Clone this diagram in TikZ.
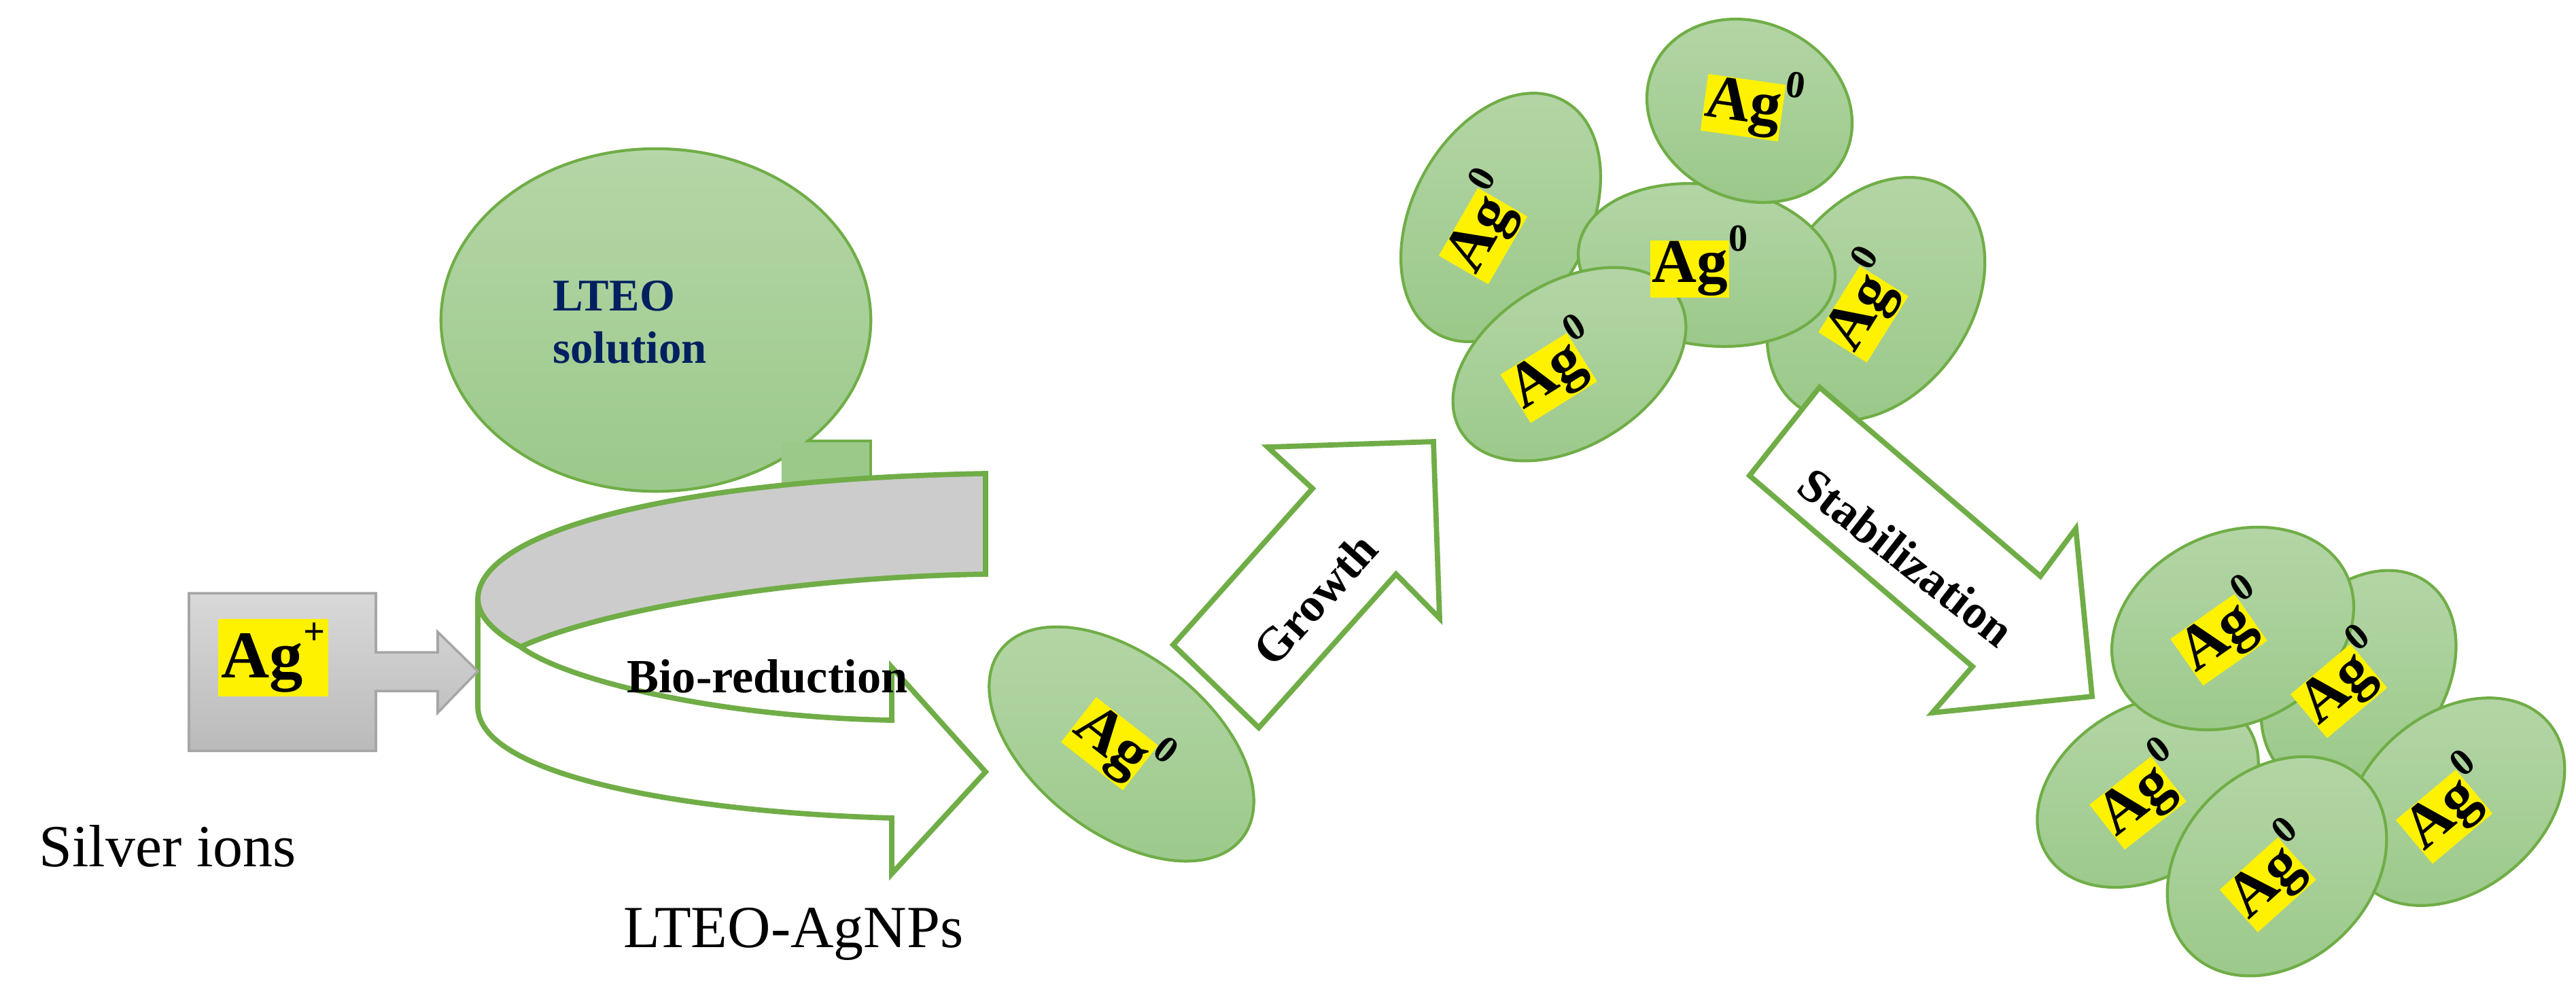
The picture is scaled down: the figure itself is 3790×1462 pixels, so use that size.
\documentclass[tikz,border=0pt]{standalone}
\usepackage{fontspec}
\setmainfont{Liberation Serif}
\usetikzlibrary{shapes.geometric}
\definecolor{gA}{HTML}{B5D6A7}
\definecolor{gB}{HTML}{9BC98A}
\definecolor{gE}{HTML}{70AD47}
\definecolor{navy}{HTML}{002060}
\newcommand{\agzero}{{\setlength{\fboxsep}{0.5pt}\colorbox{yellow}{Ag}\raisebox{0.5em}{\fontsize{16}{16}\selectfont 0}}}
\begin{document}
\begin{tikzpicture}[x=0.01cm,y=-0.01cm,
  part/.style={ellipse,draw=gE,line width=1.2pt,top color=gA,bottom color=gB,inner sep=0pt},
  ag/.style={font=\fontsize{26}{26}\selectfont\bfseries},
  blk/.style={draw=gE,line width=2.2pt,fill=white,line join=miter},
  lbl/.style={font=\fontsize{20}{20}\selectfont\bfseries}]
\useasboundingbox (0,0) rectangle (3790,1462);
% LTEO cloud
\node[part,minimum width=6.32cm,minimum height=5.04cm] (cloud) at (965,471) {};
\path[fill=gB] (1150,651) rectangle (1279,720);
\draw[gE,line width=1.2pt] (1186,649) -- (1281,649) -- (1281,705);
\node[font=\fontsize{19}{22}\selectfont\bfseries,text=navy,align=left,anchor=west] (lteo) at (801,474) {LTEO\\solution};
% curved arrow: back band
\path[draw=gE,line width=2.2pt,fill=black!20]
  (1450,697) -- (1450,845) .. controls (1150,850) and (880,900) .. (766,952)
  .. controls (725,930) and (703,905) .. (703,882)
  .. controls (703,780) and (1000,705) .. (1450,697) -- cycle;
% front band with head
\path[blk] (703,882) -- (703,1041) .. controls (705,1140) and (1000,1195) .. (1312,1204)
  -- (1312,1286) -- (1450,1136) -- (1312,982) -- (1312,1060)
  .. controls (1050,1055) and (830,1000) .. (766,952)
  .. controls (725,930) and (703,905) .. (703,882) -- cycle;
\node[lbl,anchor=west] (bio) at (910,995) {Bio-reduction};
% Ag+ box
\path[draw=black!35,line width=1pt,top color=black!15,bottom color=black!27]
  (278,873) -- (553,873) -- (553,960) -- (644,960) -- (644,930) -- (703,988)
  -- (644,1049) -- (644,1017) -- (553,1017) -- (553,1105) -- (278,1105) -- cycle;
\node[font=\fontsize{28}{28}\selectfont\bfseries] (agp) at (402,968) {{\setlength{\fboxsep}{1.5pt}\colorbox{yellow}{Ag\raisebox{0.5em}{\fontsize{16}{16}\selectfont +}}}};
\node[font=\fontsize{25}{25}\selectfont,anchor=west] (silver) at (45,1245) {Silver ions};
\node[font=\fontsize{25}{25}\selectfont,anchor=west] (agnp) at (905,1375) {LTEO-AgNPs};
% single particle
\node[part,minimum width=4.5cm,minimum height=2.6cm,rotate=-38] (p0) at (1650,1095) {};
\node[ag,rotate=-38] at (p0) {\agzero};
% Growth arrow
\path[blk] (1726,949) -- (1931,719) -- (1865,658) -- (2109,650) -- (2118,910) -- (2054,845) -- (1852,1071) -- cycle;
\node[lbl,rotate=48] (growth) at (1935,882) {Growth};
% top cluster
\node[part,minimum width=3.9cm,minimum height=2.8cm,rotate=55] (e5) at (2760,440) {};
\node[part,minimum width=3.9cm,minimum height=2.6cm,rotate=62] (e1) at (2208,320) {};
\node[part,minimum width=3.8cm,minimum height=2.36cm,rotate=-8] (e3) at (2511,390) {};
\node[part,minimum width=3.1cm,minimum height=2.6cm,rotate=-25] (e2) at (2574,163) {};
\node[part,minimum width=3.75cm,minimum height=2.4cm,rotate=32] (e4) at (2309,536) {};
\node[ag,rotate=60] at (2180,330) {\agzero};
\node[ag,rotate=-8] at (2580,150) {\agzero};
\node[ag] at (2500,385) {\agzero};
\node[ag,rotate=32] at (2285,540) {\agzero};
\node[ag,rotate=58] at (2740,445) {\agzero};
% Stabilization arrow
\path[blk] (2574,700) -- (2677,570) -- (3002,848) -- (3054,778) -- (3078,1025) -- (2843,1049) -- (2902,981) -- cycle;
\node[lbl,rotate=-38] (stab) at (2805,820) {Stabilization};
% bottom cluster
\node[part,minimum width=3.5cm,minimum height=2.5cm,rotate=55] (f2) at (3470,1000) {};
\node[part,minimum width=3.6cm,minimum height=2.6cm,rotate=40] (f3) at (3612,1180) {};
\node[part,minimum width=3.5cm,minimum height=2.5cm,rotate=32] (f4) at (3160,1165) {};
\node[part,minimum width=3.7cm,minimum height=2.8cm,rotate=25] (f1) at (3285,925) {};
\node[part,minimum width=3.6cm,minimum height=2.8cm,rotate=45] (f5) at (3350,1275) {};
\node[ag,rotate=35] at (3270,925) {\agzero};
\node[ag,rotate=40] at (3445,1000) {\agzero};
\node[ag,rotate=40] at (3600,1185) {\agzero};
\node[ag,rotate=38] at (3150,1165) {\agzero};
\node[ag,rotate=42] at (3340,1285) {\agzero};
\end{tikzpicture}
\end{document}
